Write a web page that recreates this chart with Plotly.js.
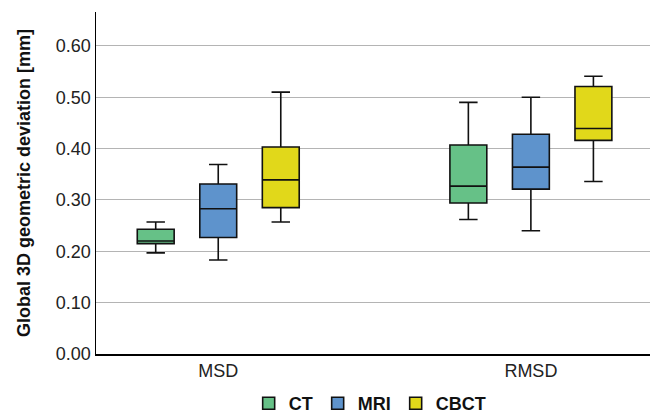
<!DOCTYPE html>
<html>
<head>
<meta charset="utf-8">
<script src="https://cdn.plot.ly/plotly-3.0.1.min.js"></script>
<style>html,body{margin:0;padding:0;background:#fff;}#chart{width:650px;height:414px;}</style>
</head>
<body>
<div id="chart"></div>
<script>
var categories = ["MSD", "RMSD"];
var seriesNames = ["CT", "MRI", "CBCT"];
var lowerWhisker = {CT: [0.197, 0.262], MRI: [0.183, 0.240], CBCT: [0.257, 0.336]};
var q1Values     = {CT: [0.215, 0.294], MRI: [0.227, 0.321], CBCT: [0.285, 0.416]};
var medianValues = {CT: [0.220, 0.327], MRI: [0.283, 0.364], CBCT: [0.339, 0.439]};
var q3Values     = {CT: [0.243, 0.407], MRI: [0.331, 0.428], CBCT: [0.403, 0.521]};
var upperWhisker = {CT: [0.257, 0.490], MRI: [0.369, 0.500], CBCT: [0.510, 0.541]};
var yTicks = [0, 0.1, 0.2, 0.3, 0.4, 0.5, 0.6];
var yTickLabels = ["0.00", "0.10", "0.20", "0.30", "0.40", "0.50", "0.60"];

var fills = {CT: "#66C187", MRI: "#5E93CC", CBCT: "#E1D81A"};

var traces = seriesNames.map(function (s) {
  return {
    type: "box",
    name: s,
    x: categories,
    q1: q1Values[s],
    median: medianValues[s],
    q3: q3Values[s],
    lowerfence: lowerWhisker[s],
    upperfence: upperWhisker[s],
    fillcolor: fills[s],
    line: {color: "#111", width: 1.6},
    whiskerwidth: 0.5,
    boxpoints: false,
    hoverinfo: "skip"
  };
});

var layout = {
  width: 650, height: 414,
  margin: {l: 96, r: 0, t: 12, b: 60, autoexpand: false},
  paper_bgcolor: "#fff", plot_bgcolor: "#fff",
  boxmode: "group",
  boxgap: 0.4,
  boxgroupgap: 0.41,
  font: {family: "Liberation Sans, Arial, sans-serif", color: "#222"},
  xaxis: {
    type: "category",
    range: [-0.391, 1.381],
    showline: true, linecolor: "#000", linewidth: 1.5,
    showgrid: false, ticks: "",
    tickfont: {size: 18, color: "#222"},
    zeroline: false
  },
  yaxis: {
    range: [0, 0.666],
    tickvals: yTicks, ticktext: yTickLabels,
    showline: true, linecolor: "#000", linewidth: 1.5,
    showgrid: true, gridcolor: "#b4b4b4", gridwidth: 1,
    zeroline: false, ticks: "",
    tickfont: {size: 18, color: "#222"},
    title: {text: "Global 3D geometric deviation [mm]", font: {size: 18, color: "#111", family: "Liberation Sans, Arial, sans-serif", weight: "bold"}, standoff: 20}
  },
  showlegend: true,
  legend: {
    orientation: "h", x: 0.494, xanchor: "center", xref: "paper",
    y: -0.145, yanchor: "middle", yref: "paper",
    font: {size: 18, color: "#111", weight: "bold"},
    itemwidth: 30, tracegroupgap: 0
  }
};

Plotly.newPlot("chart", traces, layout, {displayModeBar: false, staticPlot: true});
</script>
</body>
</html>
